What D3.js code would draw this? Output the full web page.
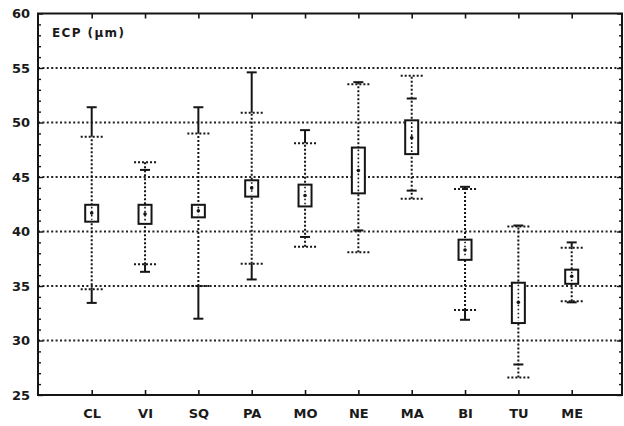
<!DOCTYPE html>
<html>
<head>
<meta charset="utf-8">
<script src="https://cdn.jsdelivr.net/npm/d3@7"></script>
<style>
  html, body { margin: 0; padding: 0; background: #fff; }
  svg { display: block; }
  text { font-family: "DejaVu Sans", sans-serif; font-weight: bold; fill: #1a1a1a; }
</style>
</head>
<body>
<svg id="chart" width="624" height="426"></svg>
<script>
// Populations along the x axis
const categories = ["CL", "VI", "SQ", "PA", "MO", "NE", "MA", "BI", "TU", "ME"];
// Mean of each population (centre dot)
const meanValues = [41.7, 41.6, 41.9, 44.0, 43.3, 45.6, 48.6, 38.3, 33.5, 35.9];
// Box: lower and upper bound (mean ± standard error)
const boxLow  = [40.9, 40.7, 41.3, 43.2, 42.3, 43.5, 47.1, 37.4, 31.6, 35.2];
const boxHigh = [42.45, 42.45, 42.45, 44.7, 44.3, 47.7, 50.2, 39.25, 35.3, 36.5];
// Dotted whiskers: mean ± standard deviation
const sdLow  = [34.7, 37.0, 35.0, 37.05, 38.6, 38.1, 43.0, 32.8, 26.6, 33.6];
const sdHigh = [48.7, 46.35, 49.0, 50.9, 48.1, 53.5, 54.3, 43.9, 40.45, 38.5];
// Solid whiskers: observed minimum and maximum
const minValues = [33.45, 36.3, 32.0, 35.6, 39.5, 40.1, 43.75, 31.9, 27.8, 33.5];
const maxValues = [51.4, 45.65, 51.4, 54.6, 49.3, 53.7, 52.2, 44.1, 40.55, 39.0];
// Axis ticks and labels
const yTicks = [25, 30, 35, 40, 45, 50, 55, 60];
const gridValues = [30, 35, 40, 45, 50, 55];
const yTitle = "ECP (\u03bcm)";

const rows = categories.map((c, i) => ({
  cat: c, mean: meanValues[i], lo: boxLow[i], hi: boxHigh[i],
  sdLo: sdLow[i], sdHi: sdHigh[i], min: minValues[i], max: maxValues[i]
}));

const svg = d3.select("#chart");
const frame = { left: 38, right: 622, top: 13.5, bottom: 395 };
const ink = "#151515";

const x = d3.scalePoint().domain(categories).range([91.7, 571.7]);
const y = d3.scaleLinear().domain([25, 60]).range([frame.bottom, frame.top]);

// Horizontal dotted grid
svg.append("g").selectAll("line").data(gridValues).join("line")
  .attr("x1", frame.left).attr("x2", frame.right)
  .attr("y1", d => y(d)).attr("y2", d => y(d))
  .attr("stroke", "#222").attr("stroke-width", 2)
  .attr("stroke-dasharray", "2 2.4");

// Left axis: labels plus inward minor/major ticks
const leftAxis = d3.axisRight(y).tickValues(d3.range(25, 61, 1))
  .tickSize(0).tickFormat("");
const gl = svg.append("g").attr("transform", `translate(${frame.left},0)`).call(leftAxis);
gl.select(".domain").remove();
gl.selectAll(".tick line")
  .attr("x2", d => d % 5 === 0 ? 5 : 3)
  .attr("stroke", ink).attr("stroke-width", 1.4);

svg.append("g").selectAll("text").data(yTicks).join("text")
  .attr("x", 30).attr("y", d => y(d)).attr("dy", "0.36em")
  .attr("text-anchor", "end").attr("font-size", 13)
  .text(d => d);

// Right axis ticks, pointing inward
const rightAxis = d3.axisLeft(y).tickValues(d3.range(25, 61, 1))
  .tickSize(0).tickFormat("");
const gr = svg.append("g").attr("transform", `translate(${frame.right},0)`).call(rightAxis);
gr.select(".domain").remove();
gr.selectAll(".tick line")
  .attr("x2", d => d % 5 === 0 ? -5 : -3)
  .attr("stroke", ink).attr("stroke-width", 1.4);

// Bottom axis: category labels and inward ticks
const bottomAxis = d3.axisBottom(x).tickSize(0).tickPadding(0);
const gb = svg.append("g").attr("transform", `translate(0,${frame.bottom})`).call(bottomAxis);
gb.select(".domain").remove();
gb.selectAll(".tick line").attr("y2", -5).attr("stroke", ink).attr("stroke-width", 1.6);
gb.selectAll(".tick text")
  .attr("y", 23).attr("dy", 0)
  .attr("font-size", 13).attr("font-family", "DejaVu Sans, sans-serif")
  .attr("font-weight", "bold").attr("fill", "#1a1a1a");

// Top axis ticks
const topAxis = d3.axisTop(x).tickSize(0).tickFormat("");
const gt = svg.append("g").attr("transform", `translate(0,${frame.top})`).call(topAxis);
gt.select(".domain").remove();
gt.selectAll(".tick line").attr("y2", 5).attr("stroke", ink).attr("stroke-width", 1.6);

// Plot frame
svg.append("rect")
  .attr("x", frame.left).attr("y", frame.top)
  .attr("width", frame.right - frame.left).attr("height", frame.bottom - frame.top)
  .attr("fill", "none").attr("stroke", ink).attr("stroke-width", 2);

// Y title inside the frame
svg.append("text").attr("x", 52).attr("y", 37)
  .attr("font-size", 12)
  .attr("textLength", 72).attr("lengthAdjust", "spacing")
  .text(yTitle);

const groups = svg.append("g").selectAll("g").data(rows).join("g")
  .attr("transform", d => `translate(${x(d.cat)},0)`);

// Dotted whisker spanning mean ± SD
groups.append("line")
  .attr("x1", 0).attr("x2", 0)
  .attr("y1", d => y(d.sdLo)).attr("y2", d => y(d.sdHi))
  .attr("stroke", ink).attr("stroke-width", 2).attr("stroke-dasharray", "2 2");

// Dotted caps at mean ± SD
["sdLo", "sdHi"].forEach(k => {
  groups.append("line")
    .attr("x1", -11).attr("x2", 11)
    .attr("y1", d => y(d[k])).attr("y2", d => y(d[k]))
    .attr("stroke", ink).attr("stroke-width", 2).attr("stroke-dasharray", "2 2");
});

// Solid segments from the SD caps out to the extreme values
groups.append("line")
  .filter(d => d.max > d.sdHi)
  .attr("x1", 0).attr("x2", 0)
  .attr("y1", d => y(d.sdHi)).attr("y2", d => y(d.max))
  .attr("stroke", ink).attr("stroke-width", 2);
groups.append("line")
  .filter(d => d.min < d.sdLo)
  .attr("x1", 0).attr("x2", 0)
  .attr("y1", d => y(d.sdLo)).attr("y2", d => y(d.min))
  .attr("stroke", ink).attr("stroke-width", 2);

// Solid caps at minimum and maximum
["min", "max"].forEach(k => {
  groups.append("line")
    .attr("x1", -5).attr("x2", 5)
    .attr("y1", d => y(d[k])).attr("y2", d => y(d[k]))
    .attr("stroke", ink).attr("stroke-width", 2);
});

// Box for mean ± SE
groups.append("rect")
  .attr("x", -6.5).attr("width", 13)
  .attr("y", d => y(d.hi)).attr("height", d => y(d.lo) - y(d.hi))
  .attr("fill", "#fff").attr("stroke", ink).attr("stroke-width", 2);

// Dotted line through the box
groups.append("line")
  .attr("x1", 0).attr("x2", 0)
  .attr("y1", d => y(d.hi) + 2).attr("y2", d => y(d.lo) - 2)
  .attr("stroke", ink).attr("stroke-width", 1.6).attr("stroke-dasharray", "1.6 2.4");

// Mean marker
groups.append("circle")
  .attr("cx", 0).attr("cy", d => y(d.mean)).attr("r", 1.8)
  .attr("fill", ink);
</script>
</body>
</html>
